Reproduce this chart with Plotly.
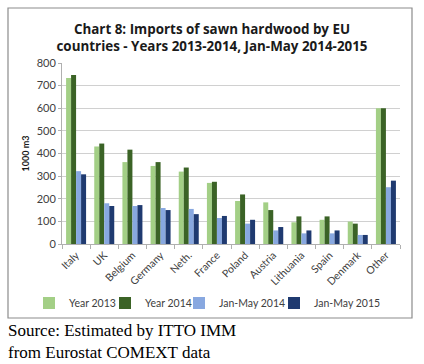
import plotly.graph_objects as go

countries = ["Italy", "UK", "Belgium", "Germany", "Neth.", "France", "Poland",
             "Austria", "Lithuania", "Spain", "Denmark", "Other"]
year_2013 = [734, 431, 362, 345, 320, 270, 190, 184, 96, 107, 99, 600]
year_2014 = [747, 444, 417, 362, 338, 275, 219, 150, 122, 122, 90, 600]
janmay_2014 = [322, 180, 168, 159, 155, 115, 90, 60, 47, 47, 40, 251]
janmay_2015 = [308, 168, 172, 150, 132, 124, 107, 75, 60, 60, 40, 280]

series = [
    ("Year 2013", year_2013, "#a3cf86"),
    ("Year 2014", year_2014, "#3b6326"),
    ("Jan-May 2014", janmay_2014, "#88a8e0"),
    ("Jan-May 2015", janmay_2015, "#1f3a70"),
]

L, R, T, B = 62, 24, 63, 120
W, H = 424, 364
pw, ph = W - L - R, H - T - B

def px2x(px):
    return (px - L) / pw

def py2y(py):
    return (H - B - py) / ph

legend_ids = ["legend", "legend2", "legend3", "legend4"]
legend_sym_px = [48, 124, 198, 293]

fig = go.Figure()
for (name, vals, col), lid in zip(series, legend_ids):
    fig.add_trace(go.Bar(x=countries, y=vals, name=name, marker_color=col,
                         marker_line_width=0, legend=lid))

legend_common = dict(orientation="h", yanchor="middle", y=py2y(303), xanchor="left",
                     font=dict(size=10.5, color="#404040"), itemwidth=30,
                     bgcolor="rgba(0,0,0,0)", borderwidth=0)
legend_layout = {}
for lid, sx in zip(legend_ids, legend_sym_px):
    legend_layout[lid] = dict(legend_common, x=px2x(sx - 19))

fig.update_layout(
    width=W, height=H,
    margin=dict(l=L, r=R, t=T, b=B, autoexpand=False),
    paper_bgcolor="white", plot_bgcolor="white",
    barmode="group", bargap=0.29, bargroupgap=0,
    font=dict(family="Lato, Open Sans, Arial, sans-serif", color="#404040"),
    title=dict(text="<b>Chart 8: Imports of sawn hardwood by EU<br>countries - Years 2013-2014, Jan-May 2014-2015</b>",
               x=0.5, xanchor="center", y=1 - 34 / H, yanchor="middle",
               font=dict(size=13.4, color="#1a1a1a", family="Open Sans, Arial, sans-serif")),
    showlegend=True,
    **legend_layout,
)
fig.update_xaxes(
    tickangle=-45, tickfont=dict(size=10.5, color="#404040"),
    showline=True, linecolor="#b0b0b0", linewidth=1,
    ticks="outside", tickson="boundaries", ticklen=4, tickcolor="#b0b0b0",
    showgrid=False, automargin=False,
)
fig.update_yaxes(
    range=[0, 800], dtick=100, tickfont=dict(size=11, color="#404040"),
    showline=True, linecolor="#b0b0b0", linewidth=1,
    ticks="outside", ticklen=3, tickcolor="#b0b0b0",
    gridcolor="#d0d0d0", gridwidth=1, zeroline=False, automargin=False,
    title=dict(text="<b>1000 m3</b>", font=dict(size=9, color="#1a1a1a"), standoff=5),
)

# chart frame
fig.add_shape(type="rect", xref="paper", yref="paper",
              x0=px2x(8), x1=px2x(412), y0=py2y(318), y1=py2y(8),
              line=dict(color="#8c8c8c", width=1.2), fillcolor="rgba(0,0,0,0)", layer="above")

fig.add_annotation(text="Source: Estimated by ITTO IMM<br>from Eurostat COMEXT data",
                   xref="paper", yref="paper", x=px2x(6), y=py2y(341),
                   xanchor="left", yanchor="middle", align="left", showarrow=False,
                   font=dict(family="Liberation Serif, Times New Roman, serif", size=17, color="black"))

fig.write_html("out.html", config={"displayModeBar": False},
               post_script="document.body.style.margin='0';")
